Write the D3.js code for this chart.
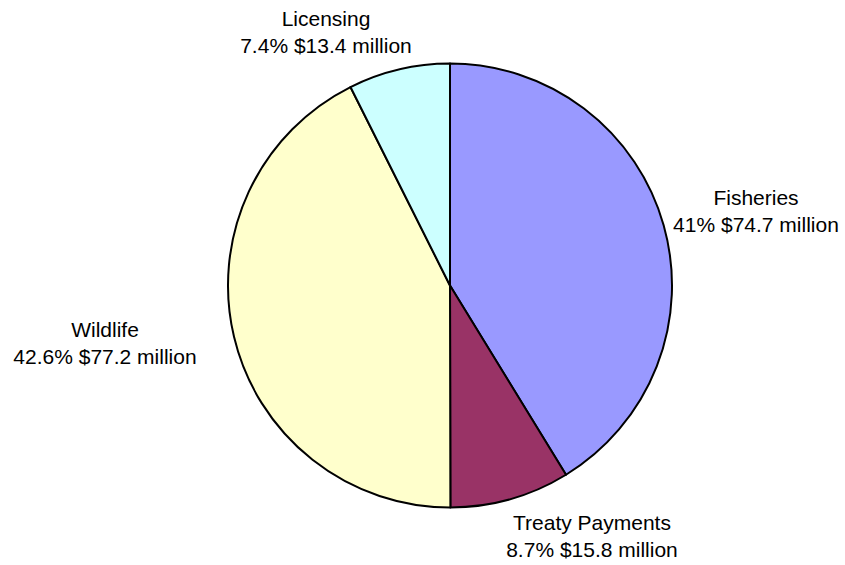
<!DOCTYPE html>
<html>
<head>
<meta charset="utf-8">
<script src="https://cdn.jsdelivr.net/npm/d3@7"></script>
<style>
  body { margin: 0; background: #fff; }
  svg { display: block; }
</style>
</head>
<body>
<svg id="chart"></svg>
<script>
// Data
const categories = ['Fisheries', 'Treaty Payments', 'Wildlife', 'Licensing'];
const amounts = [74.7, 15.8, 77.2, 13.4];          // $ million
const percentLabels = ['41%', '8.7%', '42.6%', '7.4%'];
const colors = ['#9999FF', '#993366', '#FFFFCC', '#CCFFFF'];

// Layout
const width = 845, height = 565;
const cx = 450, cy = 285.5, radius = 222;
// label anchor (centre x, first baseline y) for each slice
const labelPos = [[756, 205], [592, 530], [105, 337], [326, 26]];
const lineGap = 27;

const svg = d3.select('#chart')
  .attr('width', width)
  .attr('height', height);

const pie = d3.pie().sort(null).value(d => d.v);
const arc = d3.arc().innerRadius(0).outerRadius(radius);

const data = categories.map((c, i) => ({ c, v: amounts[i], p: percentLabels[i], col: colors[i] }));

const g = svg.append('g').attr('transform', `translate(${cx},${cy})`);

g.selectAll('path')
  .data(pie(data))
  .enter()
  .append('path')
  .attr('d', arc)
  .attr('fill', d => d.data.col)
  .attr('stroke', '#000')
  .attr('stroke-width', 2)
  .attr('stroke-linejoin', 'round');

const labels = svg.selectAll('.label')
  .data(data)
  .enter()
  .append('text')
  .attr('class', 'label')
  .attr('text-anchor', 'middle')
  .style('font-family', 'Liberation Sans, Arial, sans-serif')
  .style('font-size', '21px')
  .attr('fill', '#000');

labels.append('tspan')
  .attr('x', (d, i) => labelPos[i][0])
  .attr('y', (d, i) => labelPos[i][1])
  .text(d => d.c);

labels.append('tspan')
  .attr('x', (d, i) => labelPos[i][0])
  .attr('y', (d, i) => labelPos[i][1] + lineGap)
  .text(d => `${d.p} $${d.v} million`);
</script>
</body>
</html>
